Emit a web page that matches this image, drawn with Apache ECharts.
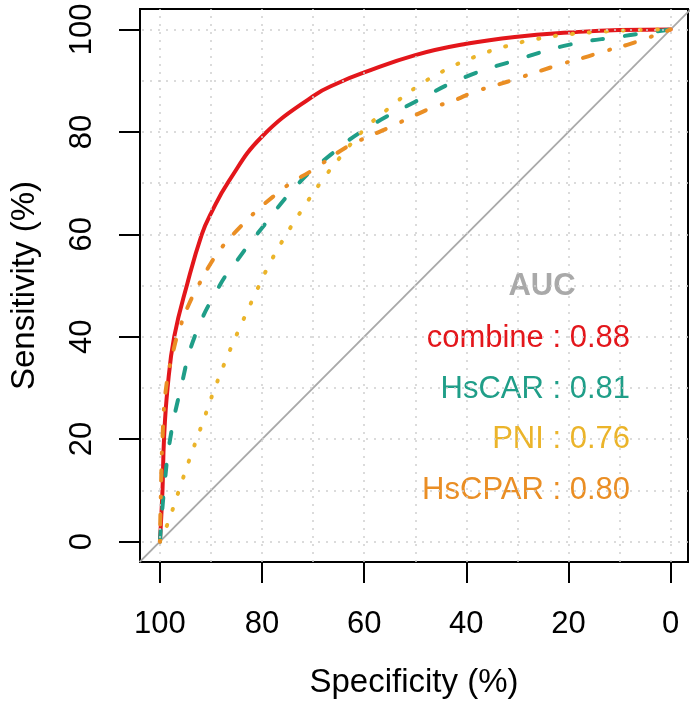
<!DOCTYPE html>
<html><head><meta charset="utf-8">
<script src="https://cdn.jsdelivr.net/npm/echarts@6/dist/echarts.min.js"></script>
<style>html,body{margin:0;padding:0;background:#fff}#c{width:693px;height:707px}</style>
</head><body><div id="c"></div>
<script>
// ---- data ----
const seriesNames = ['combine', 'HsCAR', 'PNI', 'HsCPAR'];
const aucValues = ['0.88', '0.81', '0.76', '0.80'];
const tickValues = [0, 20, 40, 60, 80, 100];
const gridValues = [0, 10, 20, 30, 40, 50, 60, 70, 80, 90, 100];

const combineSpec = [100, 99.5, 99.2, 98.5, 97.2, 94.6, 91.8, 90, 86.5, 80, 70, 65, 60, 50, 40, 30, 20, 10, 0];
const combineSens = [0, 10, 20, 30, 40, 50.5, 60, 64.1, 70.4, 79.1, 87, 89.6, 91.6, 95, 97.2, 98.6, 99.4, 99.9, 100];

const hscarSpec = [100, 99.2, 98, 95.9, 93.2, 88.3, 84.8, 81, 72.8, 66.6, 60, 50, 40, 30, 20, 10, 0];
const hscarSens = [0, 10, 20, 30, 40, 50, 55, 60, 70, 75.5, 80.4, 85.9, 90.8, 94.1, 97, 98.6, 100];

const pniSpec = [100, 99, 97.9, 95.8, 93.7, 91.5, 89.3, 86.9, 84.3, 81.6, 78.8, 75.6, 72.1, 68.4, 64.5, 60.1, 55.2, 50, 44.5, 38.5, 32.3, 25.9, 19.6, 13, 6.5, 0];
const pniSens = [0, 2.2, 5.1, 11.4, 17.5, 23.6, 29.8, 35.9, 41.9, 47.8, 53.7, 59.4, 64.9, 70.3, 75.3, 80.4, 84.6, 88.6, 91.9, 94.6, 96.7, 98.2, 99.1, 99.6, 99.9, 100];

const hscparSpec = [100, 99.8, 99.5, 98.8, 97.2, 96, 94.3, 92.3, 90, 87.6, 84.5, 81.4, 77.9, 74.4, 70.5, 63.2, 59.1, 55, 51, 46.7, 42.5, 38.5, 34.2, 29.8, 25.6, 21.2, 17, 12.8, 8.5, 3.8, 0];
const hscparSens = [0, 10, 20, 30, 38, 42, 46.4, 50.3, 54.4, 57.8, 61.2, 64.3, 67.3, 70, 72.3, 77.2, 79.1, 80.9, 82.8, 84.7, 86.1, 87.8, 89.1, 90.5, 91.9, 93.3, 94.5, 95.8, 97, 98.6, 100];

const diagSpec = [104, -4];
const diagSens = [-4, 104];

// ---- styles ----
const FONT = "'Liberation Sans', Arial, Helvetica, sans-serif";
const colors = ['#E3161B', '#1F9E88', '#EBB42A', '#EA8E24'];
const dashes = ['solid', [11, 22], [1, 16], [1, 16, 10, 17]];

const zip = (a, b) => a.map((v, i) => [v, b[i]]);
const curves = [
  zip(combineSpec, combineSens),
  zip(hscarSpec, hscarSens),
  zip(pniSpec, pniSens),
  zip(hscparSpec, hscparSens)
];

const chart = echarts.init(document.getElementById('c'), null, {renderer: 'canvas'});

const gridLine = {color: '#cfcfcf', width: 1.5, type: [2, 6]};

const series = [{
  type: 'line',
  name: 'diag',
  data: zip(diagSpec, diagSens),
  showSymbol: false,
  clip: true,
  lineStyle: {color: '#a9a9a9', width: 1.8},
  silent: true,
  z: 1,
  markLine: {
    silent: true,
    symbol: ['none', 'none'],
    label: {show: false},
    lineStyle: gridLine,
    emphasis: {disabled: true},
    animation: false,
    data: gridValues.map(v => ({xAxis: v})).concat(gridValues.map(v => ({yAxis: v})))
  }
}];
curves.forEach((d, i) => {
  series.push({
    type: 'line',
    name: seriesNames[i],
    data: d,
    smooth: 0.45,
    showSymbol: false,
    clip: true,
    silent: true,
    z: 2 + i,
    lineStyle: {color: colors[i], width: 4, type: dashes[i], cap: 'round', join: 'round'}
  });
});

const legendY = [338, 389, 439, 490];
const graphics = [{
  type: 'text', x: 542, y: 286, silent: true,
  style: {text: 'AUC', fill: '#a9a9a9', font: 'bold 31px ' + FONT, textAlign: 'center', textVerticalAlign: 'middle'}
}];
seriesNames.forEach((n, i) => {
  graphics.push({
    type: 'text', x: 630, y: legendY[i], silent: true,
    style: {text: n + ' : ' + aucValues[i], fill: colors[i], font: '31px ' + FONT, textAlign: 'right', textVerticalAlign: 'middle'}
  });
});

chart.setOption({
  animation: false,
  backgroundColor: '#fff',
  grid: {left: 139, top: 9, width: 549, height: 553, show: true, borderColor: '#000', borderWidth: 2, backgroundColor: 'transparent', containLabel: false},
  xAxis: {
    type: 'value', inverse: true, min: -3.4, max: 103.9,
    axisLine: {show: false, onZero: false},
    splitLine: {show: false},
    axisTick: {show: true, length: 21, customValues: tickValues, lineStyle: {color: '#000', width: 2}},
    axisLabel: {customValues: tickValues, fontSize: 31, color: '#000', margin: 47, fontFamily: FONT},
    name: 'Specificity (%)', nameLocation: 'middle', nameGap: 104,
    nameTextStyle: {fontSize: 33, color: '#000', fontFamily: FONT}
  },
  yAxis: {
    type: 'value', min: -4, max: 104,
    axisLine: {show: false, onZero: false},
    splitLine: {show: false},
    axisTick: {show: true, length: 21, customValues: tickValues, lineStyle: {color: '#000', width: 2}},
    axisLabel: {customValues: tickValues, rotate: 90, fontSize: 31, color: '#000', margin: 42, fontFamily: FONT},
    name: 'Sensitivity (%)', nameLocation: 'middle', nameGap: 99, nameRotate: 90,
    nameTextStyle: {fontSize: 33, color: '#000', fontFamily: FONT}
  },
  series: series,
  graphic: graphics
});
</script></body></html>
